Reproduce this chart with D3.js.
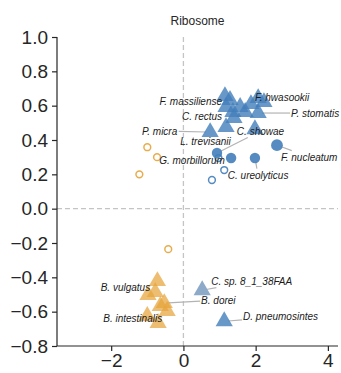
<!DOCTYPE html>
<html>
<head>
<meta charset="utf-8">
<script src="https://cdn.jsdelivr.net/npm/d3@7"></script>
<style>
  body { margin: 0; background: #fff; }
  svg { display: block; font-family: "Liberation Sans", Arial, sans-serif; }
</style>
</head>
<body>
<svg id="chart" width="341" height="373"></svg>
<script>
// Ordination of ribosome profiles: species scores on the first two axes.
const title = "Ribosome";
const xTicks = [-2, 0, 2, 4];
const yTicks = [-0.8, -0.6, -0.4, -0.2, 0.0, 0.2, 0.4, 0.6, 0.8, 1.0];

// Oral taxa (blue triangles)
const oralTriangles = [
  [1.15, 0.656], [1.18, 0.592], [1.37, 0.563], [1.57, 0.592], [1.71, 0.563],
  [1.87, 0.609], [2.07, 0.644], [2.23, 0.621], [2.07, 0.557], [1.40, 0.528],
  [1.18, 0.475], [0.74, 0.446], [1.98, 0.463], [1.29, 0.633], [1.13, -0.656]
];
// Gut taxa (orange triangles)
const gutTriangles = [
  [-0.72, -0.422], [-0.98, -0.503], [-0.78, -0.486], [-0.53, -0.550],
  [-0.64, -0.567], [-0.45, -0.596], [-1.00, -0.625], [-0.70, -0.666]
];
// Unassigned taxon (grey-blue triangle)
const otherTriangles = [[0.52, -0.475]];
// Filled blue circles
const oralCircles = [[2.59, 0.370], [1.98, 0.295], [1.32, 0.295], [0.93, 0.324]];
// Open circles
const oralRings = [[0.97, 0.295], [1.13, 0.225], [0.79, 0.167]];
const gutRings = [[-1.00, 0.358], [-0.73, 0.300], [-1.22, 0.200], [-0.42, -0.236]];

// Species labels: text position, anchor, the mark each names, leader on/off
const labelText   = ["F. massiliense", "F. hwasookii", "P. stomatis", "C. rectus", "P. micra",
                     "C. showae", "L. trevisanii", "G. morbillorum", "C. ureolyticus", "F. nucleatum",
                     "B. vulgatus", "B. dorei", "B. intestinalis", "C. sp. 8_1_38FAA", "D. pneumosintes"];
const labelX      = [1.07, 1.98, 2.98, 1.07, -0.17, 1.48, -0.09, -0.67, 1.23, 2.70, -0.92, 0.49, -2.22, 0.77, 1.65];
const labelY      = [0.627, 0.650, 0.557, 0.539, 0.452, 0.452, 0.394, 0.283, 0.196, 0.300, -0.457, -0.533, -0.638, -0.422, -0.631];
const labelAnchor = ["end", "start", "start", "end", "end", "start", "start", "start", "start", "start", "end", "start", "start", "start", "start"];
const labelPointX = [1.15, 2.07, 2.07, 1.18, 0.74, 0.93, 1.18, 1.32, 1.98, 2.59, -0.72, -0.53, -0.70, 0.52, 1.13];
const labelPointY = [0.656, 0.644, 0.557, 0.592, 0.446, 0.324, 0.475, 0.295, 0.295, 0.370, -0.422, -0.550, -0.666, -0.475, -0.656];
const labelLeader = [false, false, true, false, true, true, false, false, true, true, false, true, false, true, true];

const svg = d3.select("#chart");
const x = d3.scaleLinear().domain([-3.5, 4.28]).range([57, 338]);
const y = d3.scaleLinear().domain([-0.8, 1.0]).range([346, 37]);

const ink = "#262626";
const blue = "rgb(66,126,186)";
const orange = "rgb(230,163,58)";
const greyBlue = "rgb(135,166,198)";

// reference lines at zero
svg.append("line")
  .attr("x1", x(0)).attr("x2", x(0)).attr("y1", y(1.0)).attr("y2", y(-0.8))
  .attr("stroke", "#c4c4c4").attr("stroke-width", 1.3).attr("stroke-dasharray", "5,3");
svg.append("line")
  .attr("x1", x.range()[0]).attr("x2", x.range()[1]).attr("y1", y(0)).attr("y2", y(0))
  .attr("stroke", "#c4c4c4").attr("stroke-width", 1.3).attr("stroke-dasharray", "5,3");

// axes
const xAxis = svg.append("g").attr("transform", `translate(0,${y(-0.8)})`)
  .call(d3.axisBottom(x).tickValues(xTicks).tickFormat(d3.format("d")).tickSize(5).tickPadding(3));
const yAxis = svg.append("g").attr("transform", `translate(${x(-3.5)},0)`)
  .call(d3.axisLeft(y).tickValues(yTicks).tickFormat(d3.format(".1f")).tickSize(5).tickPadding(4));
[xAxis, yAxis].forEach(g => {
  g.selectAll("path.domain").attr("stroke", ink).attr("stroke-width", 1.2);
  g.selectAll(".tick line").attr("stroke", ink).attr("stroke-width", 1.2);
  g.selectAll(".tick text").attr("fill", ink).style("font-size", "19px")
    .style("font-family", "'Liberation Sans', Arial, sans-serif");
});
xAxis.select("path.domain").attr("d", `M${x.range()[0]},0H${x.range()[1]}`);
yAxis.select("path.domain").attr("d", `M0,${y.range()[0]}V${y.range()[1]}`);

svg.append("text")
  .attr("x", (x.range()[0] + x.range()[1]) / 2).attr("y", 25)
  .attr("text-anchor", "middle").attr("fill", ink)
  .style("font-size", "12px").text(title);

// labels first (so their boxes are known), leaders under the marks
const leaderLayer = svg.append("g");
const markLayer = svg.append("g");
const labelLayer = svg.append("g");

const labels = labelText.map((t, i) => ({
  text: t, lx: labelX[i], ly: labelY[i], anchor: labelAnchor[i],
  px: labelPointX[i], py: labelPointY[i], leader: labelLeader[i]
}));

labelLayer.selectAll("text").data(labels).join("text")
  .attr("x", d => x(d.lx)).attr("y", d => y(d.ly))
  .attr("dy", "0.35em")
  .attr("text-anchor", d => d.anchor)
  .attr("fill", "#1a1a1a")
  .style("font-size", "10px").style("font-style", "italic")
  .text(d => d.text)
  .each(function (d) { d.box = this.getBBox(); });

// leader from the mark toward the label centre, clipped at the label box
labels.filter(d => d.leader).forEach(d => {
  const b = d.box;
  const cx = b.x + b.width / 2, cy = b.y + b.height / 2;
  const x0 = x(d.px), y0 = y(d.py);
  const dx = cx - x0, dy = cy - y0;
  let t = 1;
  const pad = 1;
  if (dx !== 0) {
    const tx = dx > 0 ? (b.x - pad - x0) / dx : (b.x + b.width + pad - x0) / dx;
    const ty = dy !== 0 ? (dy > 0 ? (b.y - pad - y0) / dy : (b.y + b.height + pad - y0) / dy) : -Infinity;
    t = Math.max(tx, ty);
  } else if (dy !== 0) {
    t = dy > 0 ? (b.y - pad - y0) / dy : (b.y + b.height + pad - y0) / dy;
  }
  t = Math.min(Math.max(t, 0), 1);
  const len = Math.hypot(dx, dy);
  const s = len > 0 ? 4 / len : 0;
  leaderLayer.append("line")
    .attr("x1", x0 + dx * s).attr("y1", y0 + dy * s)
    .attr("x2", x0 + dx * t).attr("y2", y0 + dy * t)
    .attr("stroke", "#b3b3b3").attr("stroke-width", 1.2);
});

const tri = d3.symbol().type(d3.symbolTriangle).size(128);

function triangles(data, color, op) {
  markLayer.append("g").selectAll("path").data(data).join("path")
    .attr("d", tri)
    .attr("transform", d => `translate(${x(d[0])},${y(d[1])})`)
    .attr("fill", color).attr("fill-opacity", op);
}
function dots(data, color, r) {
  markLayer.append("g").selectAll("circle").data(data).join("circle")
    .attr("cx", d => x(d[0])).attr("cy", d => y(d[1]))
    .attr("r", (d, i) => i === 0 ? r + 0.7 : r)
    .attr("fill", color).attr("fill-opacity", 0.9);
}
function rings(data, color) {
  markLayer.append("g").selectAll("circle").data(data).join("circle")
    .attr("cx", d => x(d[0])).attr("cy", d => y(d[1]))
    .attr("r", 3.4)
    .attr("fill", "none").attr("stroke", color).attr("stroke-width", 1.5).attr("stroke-opacity", 0.9);
}

rings(gutRings, orange);
rings(oralRings, blue);
dots(oralCircles, blue, 5.2);
triangles(gutTriangles, orange, 0.72);
triangles(otherTriangles, greyBlue, 0.95);
triangles(oralTriangles, blue, 0.8);

// keep labels on top
labelLayer.raise();
</script>
</body>
</html>
